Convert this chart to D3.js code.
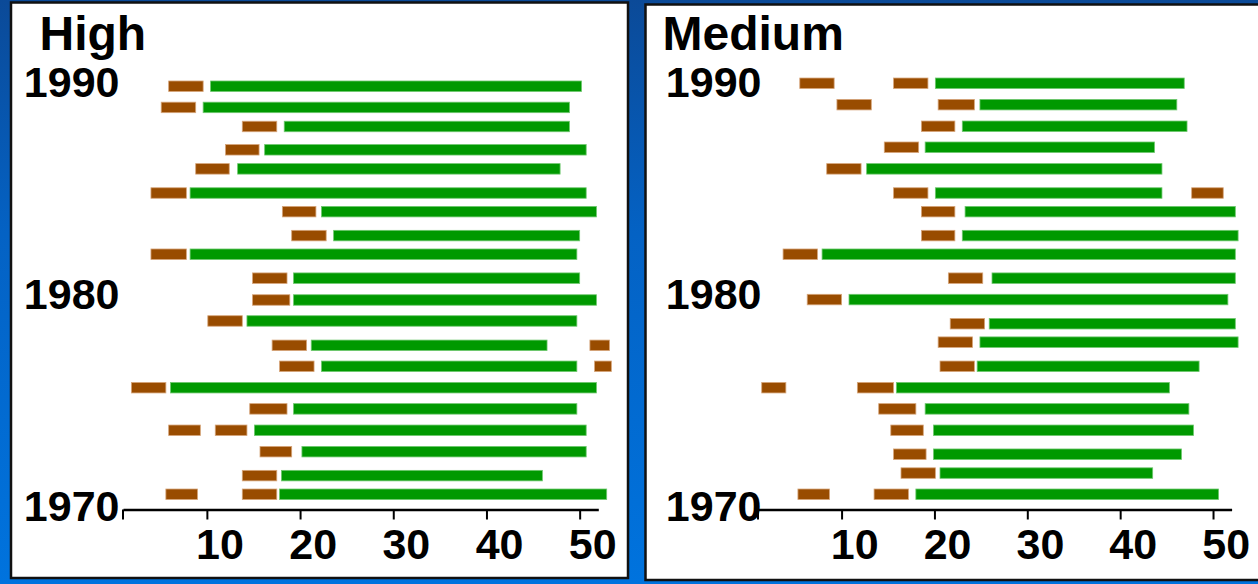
<!DOCTYPE html>
<html>
<head>
<meta charset="utf-8">
<script src="https://cdn.jsdelivr.net/npm/d3@7"></script>
<style>
  html, body { margin: 0; padding: 0; background: #0466cc; }
  svg { display: block; }
  text { font-family: "Liberation Sans", Arial, sans-serif; font-weight: bold; fill: #000; }
</style>
</head>
<body>
<svg id="chart" width="1258" height="584"></svg>
<script>
// ---------- data ----------
const panelTitles = ["High", "Medium"];
const yearLabels = [1990, 1980, 1970];
const tickValues = [10, 20, 30, 40, 50];
const weekDomain = [1, 52];
const yearDomain = [1970, 1990];

// High: row positions (year), brown segments, green segment (week of year)
const highRows = [1989.8, 1988.8, 1987.9, 1986.8, 1985.9, 1984.76, 1983.88, 1982.75, 1981.87, 1980.74,
                  1979.71, 1978.72, 1977.57, 1976.58, 1975.57, 1974.57, 1973.56, 1972.55, 1971.42, 1970.54];
const highBrown = [
  [[5.9, 9.6]], [[5.1, 8.8]], [[13.8, 17.5]], [[12.0, 15.6]], [[8.8, 12.4]],
  [[4.0, 7.8]], [[18.1, 21.7]], [[19.1, 22.8]], [[4.0, 7.8]], [[14.9, 18.6]],
  [[14.9, 18.9]], [[10.1, 13.8]], [[17.0, 20.7], [51.1, 53.2]], [[17.8, 21.5], [51.6, 53.4]], [[1.9, 5.6]],
  [[14.6, 18.6]], [[5.9, 9.3], [10.9, 14.3]], [[15.7, 19.1]], [[13.8, 17.5]], [[5.6, 9.0], [13.8, 17.5]]
];
const highGreen = [
  [10.4, 50.2], [9.6, 48.9], [18.3, 48.9], [16.2, 50.7], [13.3, 47.9],
  [8.2, 50.7], [22.3, 51.8], [23.6, 50.0], [8.2, 49.7], [19.3, 50.0],
  [19.3, 51.8], [14.3, 49.7], [21.2, 46.5], [22.3, 49.7], [6.1, 51.8],
  [19.3, 49.7], [15.1, 50.7], [20.2, 50.7], [18.0, 46.0], [17.8, 52.9]
];

// Medium
const mediumRows = [1989.94, 1988.93, 1987.91, 1986.92, 1985.9, 1984.76, 1983.88, 1982.75, 1981.87, 1980.74,
                    1979.73, 1978.59, 1977.72, 1976.58, 1975.57, 1974.57, 1973.56, 1972.43, 1971.54, 1970.54];
const mediumBrown = [
  [[5.5, 9.2], [15.6, 19.3]], [[9.5, 13.2], [20.4, 24.3]], [[18.6, 22.2]], [[14.6, 18.3]], [[8.4, 12.1]],
  [[15.6, 19.3], [47.7, 51.1]], [[18.6, 22.2]], [[18.6, 22.2]], [[3.7, 7.4]], [[21.5, 25.2]],
  [[6.3, 10.0]], [[21.7, 25.4]], [[20.4, 24.1]], [[20.6, 24.3]], [[1.4, 4.0], [11.7, 15.6]],
  [[14.0, 18.0]], [[15.3, 18.8]], [[15.6, 19.1]], [[16.4, 20.1]], [[5.3, 8.7], [13.5, 17.2]]
];
const mediumGreen = [
  [20.1, 46.9], [24.9, 46.1], [23.0, 47.2], [19.0, 43.7], [12.7, 44.5],
  [20.1, 44.5], [23.3, 52.4], [23.0, 52.7], [7.9, 52.4], [26.2, 52.4],
  [10.8, 51.6], [25.9, 52.4], [24.9, 52.7], [24.6, 48.5], [15.9, 45.3],
  [19.0, 47.4], [19.9, 47.9], [19.9, 46.6], [20.6, 43.5], [18.0, 50.6]
];

// ---------- layout ----------
const W = 1258, H = 584;
const colors = { brown: "#994c00", green: "#009900", brownEdge: "#d6a57a", greenEdge: "#6fc86f" };
const panels = [
  { title: panelTitles[0], rows: highRows, brown: highBrown, green: highGreen,
    box: [11, 2.5, 617, 575.5], xRange: [123, 598.3], titleX: 39.5, labelX: 119.5 },
  { title: panelTitles[1], rows: mediumRows, brown: mediumBrown, green: mediumGreen,
    box: [645.5, 4.5, 640, 575.5], xRange: [758, 1231.6], titleX: 662.5, labelX: 761.5 }
];
const yScale = d3.scaleLinear().domain(yearDomain).range([505.7, 82]);
const axisY = 509.5;
const barH = 10.5;

const svg = d3.select("#chart");
const defs = svg.append("defs");
const grad = defs.append("linearGradient").attr("id", "bg").attr("x1", 0).attr("y1", 0).attr("x2", 0).attr("y2", 1);
grad.append("stop").attr("offset", 0).attr("stop-color", "#0b4a98");
grad.append("stop").attr("offset", 0.4).attr("stop-color", "#0462c4");
grad.append("stop").attr("offset", 1).attr("stop-color", "#0073de");
svg.append("rect").attr("width", W).attr("height", H).attr("fill", "url(#bg)");

panels.forEach(p => {
  const g = svg.append("g");
  g.append("rect")
    .attr("x", p.box[0]).attr("y", p.box[1]).attr("width", p.box[2]).attr("height", p.box[3])
    .attr("fill", "#fff").attr("stroke", "#111").attr("stroke-width", 2.5);

  const x = d3.scaleLinear().domain(weekDomain).range(p.xRange);

  // title
  g.append("text").attr("x", p.titleX).attr("y", 50).attr("font-size", 48).text(p.title);

  // year labels
  g.selectAll("text.year").data(yearLabels).join("text")
    .attr("class", "year")
    .attr("x", p.labelX).attr("y", d => yScale(d) + 15)
    .attr("text-anchor", "end").attr("font-size", 43)
    .text(d => d);

  // bars
  const rowData = p.rows.map((yr, i) => ({ yr, brown: p.brown[i], green: p.green[i] }));
  const rowsG = g.selectAll("g.row").data(rowData).join("g").attr("class", "row");
  rowsG.append("rect")
    .attr("x", d => x(d.green[0])).attr("width", d => x(d.green[1]) - x(d.green[0]))
    .attr("y", d => yScale(d.yr) - barH / 2).attr("height", barH)
    .attr("fill", colors.green).attr("stroke", colors.greenEdge).attr("stroke-width", 0.8);
  rowsG.selectAll("rect.b").data(d => d.brown.map(s => ({ s, yr: d.yr }))).join("rect")
    .attr("class", "b")
    .attr("x", d => x(d.s[0])).attr("width", d => x(d.s[1]) - x(d.s[0]))
    .attr("y", d => yScale(d.yr) - barH / 2).attr("height", barH)
    .attr("fill", colors.brown).attr("stroke", colors.brownEdge).attr("stroke-width", 0.8);

  // axis
  const axis = d3.axisBottom(x).tickValues(tickValues).tickSize(10).tickSizeOuter(0).tickFormat(d3.format("d"));
  const ag = g.append("g").attr("transform", `translate(0,${axisY})`).call(axis);
  ag.select(".domain").attr("stroke", "#000").attr("stroke-width", 2.5);
  ag.selectAll(".tick line").attr("stroke", "#000").attr("stroke-width", 2);
  ag.selectAll(".tick text")
    .attr("x", 12.6).attr("y", 49.5).attr("dy", null)
    .attr("font-size", 43).attr("font-family", "'Liberation Sans', Arial, sans-serif")
    .attr("font-weight", "bold").attr("fill", "#000");
  // left end tick
  ag.append("line").attr("x1", x(weekDomain[0])).attr("x2", x(weekDomain[0]))
    .attr("y1", 0).attr("y2", 10).attr("stroke", "#000").attr("stroke-width", 2);
});
</script>
</body>
</html>
